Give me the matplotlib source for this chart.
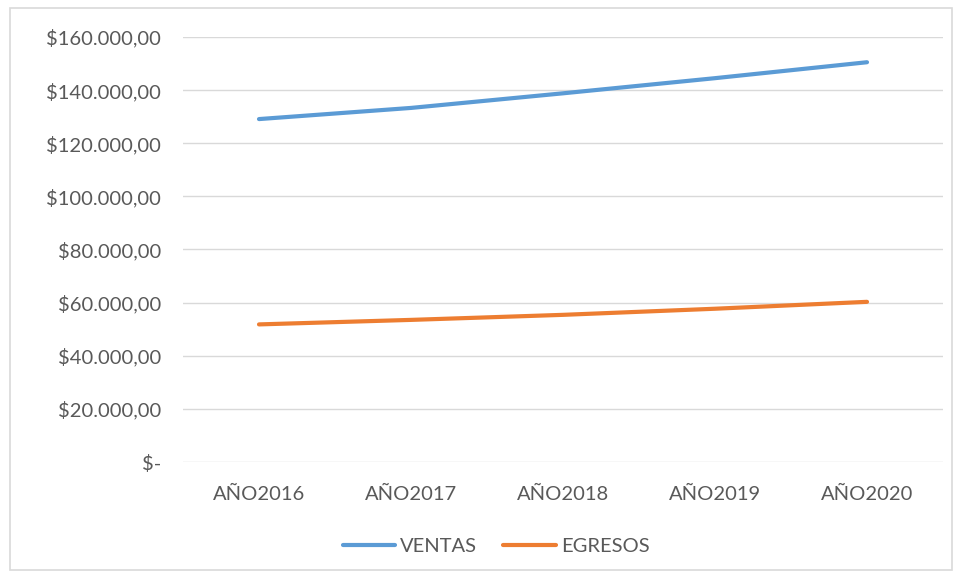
import matplotlib
matplotlib.use("Agg")
import matplotlib.pyplot as plt
from matplotlib.patches import Rectangle

anios = ["AÑO2016", "AÑO2017", "AÑO2018", "AÑO2019", "AÑO2020"]
ventas = [129100, 133300, 138800, 144500, 150500]
egresos = [51800, 53500, 55400, 57700, 60300]
y_ticks = [0, 20000, 40000, 60000, 80000, 100000, 120000, 140000, 160000]

gris = "#595959"
plt.rcParams['font.family'] = ['Lato', 'DejaVu Sans']


def formato_pesos(v):
    if v == 0:
        return "$-"
    s = "{:,.2f}".format(v)
    s = s.replace(",", "X").replace(".", ",").replace("X", ".")
    return "$" + s


fig = plt.figure(figsize=(9.61, 5.78), dpi=100)
ax = fig.add_axes([183 / 961, 1 - 462 / 578, 760 / 961, 425 / 578])

x = range(len(anios))
ax.plot(x, ventas, color="#5B9BD5", lw=3, solid_capstyle="round", label="VENTAS")
ax.plot(x, egresos, color="#ED7D31", lw=3, solid_capstyle="round", label="EGRESOS")

ax.set_xlim(-0.5, len(anios) - 0.5)
ax.set_ylim(0, 160000)
ax.set_yticks(y_ticks)
ax.set_yticklabels([formato_pesos(v) for v in y_ticks])
ax.set_xticks(list(x))
ax.set_xticklabels(anios)
ax.grid(axis="y", color="#D9D9D9", lw=1)
ax.set_axisbelow(True)
for sp in ax.spines.values():
    sp.set_visible(False)
ax.tick_params(axis="both", length=0, labelsize=14.5, labelcolor=gris)
ax.tick_params(axis="y", pad=16)
ax.tick_params(axis="x", pad=17)

leg = fig.legend(loc="center", bbox_to_anchor=(496 / 961, 1 - 546 / 578), ncol=2,
                 frameon=False, fontsize=14.5, handlelength=2.6, handletextpad=0.25,
                 columnspacing=1.3)
for t in leg.get_texts():
    t.set_color(gris)

# borde del area del grafico
fig.patches.append(Rectangle((10 / 961, 1 - 570 / 578), 942 / 961, 562 / 578,
                             transform=fig.transFigure, fill=False,
                             edgecolor="#D9D9D9", lw=1.2))

fig.savefig("out.png", dpi=100)
